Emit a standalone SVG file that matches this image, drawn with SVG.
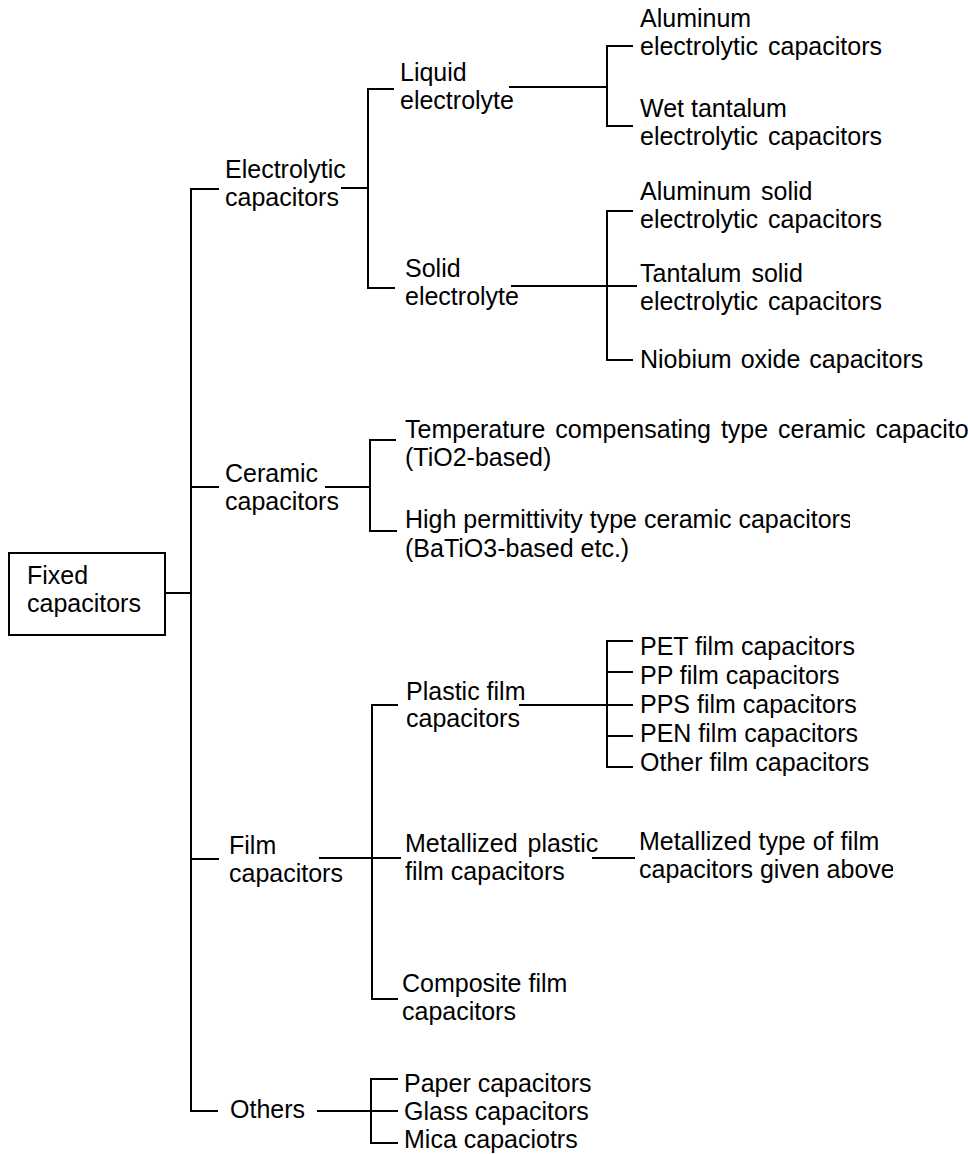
<svg xmlns="http://www.w3.org/2000/svg" width="968" height="1154" viewBox="0 0 968 1154">
<style>
text{font-family:"Liberation Sans",Arial,sans-serif;font-size:25px;fill:#000}
.ws{word-spacing:3px}
.c line{stroke:#000;stroke-width:2;stroke-linecap:square}
.box{fill:#fff;stroke:#000;stroke-width:2}
</style>
<defs>
<clipPath id="clipHigh"><rect x="400" y="500" width="450" height="70"/></clipPath>
<clipPath id="clipMet"><rect x="630" y="820" width="263" height="70"/></clipPath>
</defs>
<rect width="968" height="1154" fill="#fff"/>
<g id="connectors" class="c">
<line x1="165" y1="593" x2="191" y2="593"/>
<line x1="191" y1="189" x2="191" y2="1111"/>
<line x1="191" y1="189" x2="218" y2="189"/>
<line x1="191" y1="487" x2="218" y2="487"/>
<line x1="191" y1="859" x2="218" y2="859"/>
<line x1="191" y1="1111" x2="217" y2="1111"/>
<line x1="342" y1="188" x2="368" y2="188"/>
<line x1="368" y1="89" x2="368" y2="288"/>
<line x1="368" y1="89" x2="393" y2="89"/>
<line x1="368" y1="288" x2="394" y2="288"/>
<line x1="510" y1="87" x2="607" y2="87"/>
<line x1="607" y1="46" x2="607" y2="126"/>
<line x1="607" y1="46" x2="632" y2="46"/>
<line x1="607" y1="126" x2="632" y2="126"/>
<line x1="512" y1="286" x2="636" y2="286"/>
<line x1="607" y1="211" x2="607" y2="360"/>
<line x1="607" y1="211" x2="632" y2="211"/>
<line x1="607" y1="360" x2="632" y2="360"/>
<line x1="326" y1="487" x2="370" y2="487"/>
<line x1="370" y1="440" x2="370" y2="531"/>
<line x1="370" y1="440" x2="395" y2="440"/>
<line x1="370" y1="531" x2="396" y2="531"/>
<line x1="320" y1="858" x2="400" y2="858"/>
<line x1="372" y1="705" x2="372" y2="999"/>
<line x1="372" y1="705" x2="397" y2="705"/>
<line x1="372" y1="999" x2="397" y2="999"/>
<line x1="520" y1="705" x2="632" y2="705"/>
<line x1="607" y1="641" x2="607" y2="767"/>
<line x1="607" y1="641" x2="632" y2="641"/>
<line x1="607" y1="672" x2="632" y2="672"/>
<line x1="607" y1="736" x2="632" y2="736"/>
<line x1="607" y1="767" x2="632" y2="767"/>
<line x1="593" y1="858" x2="634" y2="858"/>
<line x1="318" y1="1111" x2="397" y2="1111"/>
<line x1="371" y1="1079" x2="371" y2="1143"/>
<line x1="371" y1="1079" x2="397" y2="1079"/>
<line x1="371" y1="1143" x2="397" y2="1143"/>
</g>
<g id="fixed">
<rect class="box" x="9" y="553" width="156" height="82"/>
<text x="27" y="584">Fixed</text>
<text x="27" y="612">capacitors</text>
</g>
<g id="electrolytic">
<text x="225" y="178">Electrolytic</text>
<text x="225" y="206">capacitors</text>
</g>
<g id="liquid">
<text x="400" y="81">Liquid</text>
<text x="400" y="109">electrolyte</text>
</g>
<g id="solid">
<text x="405" y="277">Solid</text>
<text x="405" y="305">electrolyte</text>
</g>
<g id="aluminum">
<text x="640" y="27">Aluminum</text>
<text class="ws" x="640" y="55">electrolytic capacitors</text>
</g>
<g id="wet-tantalum">
<text x="640" y="117">Wet tantalum</text>
<text class="ws" x="640" y="145">electrolytic capacitors</text>
</g>
<g id="aluminum-solid">
<text class="ws" x="640" y="200">Aluminum solid</text>
<text class="ws" x="640" y="228">electrolytic capacitors</text>
</g>
<g id="tantalum-solid">
<text class="ws" x="640" y="282">Tantalum solid</text>
<text class="ws" x="640" y="310">electrolytic capacitors</text>
</g>
<g id="niobium">
<text x="640" y="368" style="word-spacing:2px">Niobium oxide capacitors</text>
</g>
<g id="ceramic">
<text x="225" y="482">Ceramic</text>
<text x="225" y="510">capacitors</text>
</g>
<g id="temperature">
<text class="ws" x="405" y="438">Temperature compensating type ceramic capacitors</text>
<text x="405" y="466">(TiO2-based)</text>
</g>
<g id="high-permittivity" clip-path="url(#clipHigh)">
<text x="405" y="528">High permittivity type ceramic capacitors</text>
<text x="405" y="557">(BaTiO3-based etc.)</text>
</g>
<g id="film">
<text x="229" y="854">Film</text>
<text x="229" y="882">capacitors</text>
</g>
<g id="plastic-film">
<text x="406" y="700">Plastic film</text>
<text x="406" y="727">capacitors</text>
</g>
<g id="pet"><text x="640" y="655">PET film capacitors</text></g>
<g id="pp"><text x="640" y="684">PP film capacitors</text></g>
<g id="pps"><text x="640" y="713">PPS film capacitors</text></g>
<g id="pen"><text x="640" y="742">PEN film capacitors</text></g>
<g id="other-film"><text x="640" y="771">Other film capacitors</text></g>
<g id="metallized-plastic">
<text class="ws" x="405" y="852">Metallized plastic</text>
<text x="405" y="880">film capacitors</text>
</g>
<g id="metallized-type" clip-path="url(#clipMet)">
<text x="639" y="850">Metallized type of film</text>
<text x="639" y="878">capacitors given above</text>
</g>
<g id="composite">
<text x="402" y="992">Composite film</text>
<text x="402" y="1020">capacitors</text>
</g>
<g id="others">
<text x="230" y="1118">Others</text>
</g>
<g id="paper"><text x="404" y="1092">Paper capacitors</text></g>
<g id="glass"><text x="404" y="1120">Glass capacitors</text></g>
<g id="mica"><text x="404" y="1148">Mica capaciotrs</text></g>
</svg>
